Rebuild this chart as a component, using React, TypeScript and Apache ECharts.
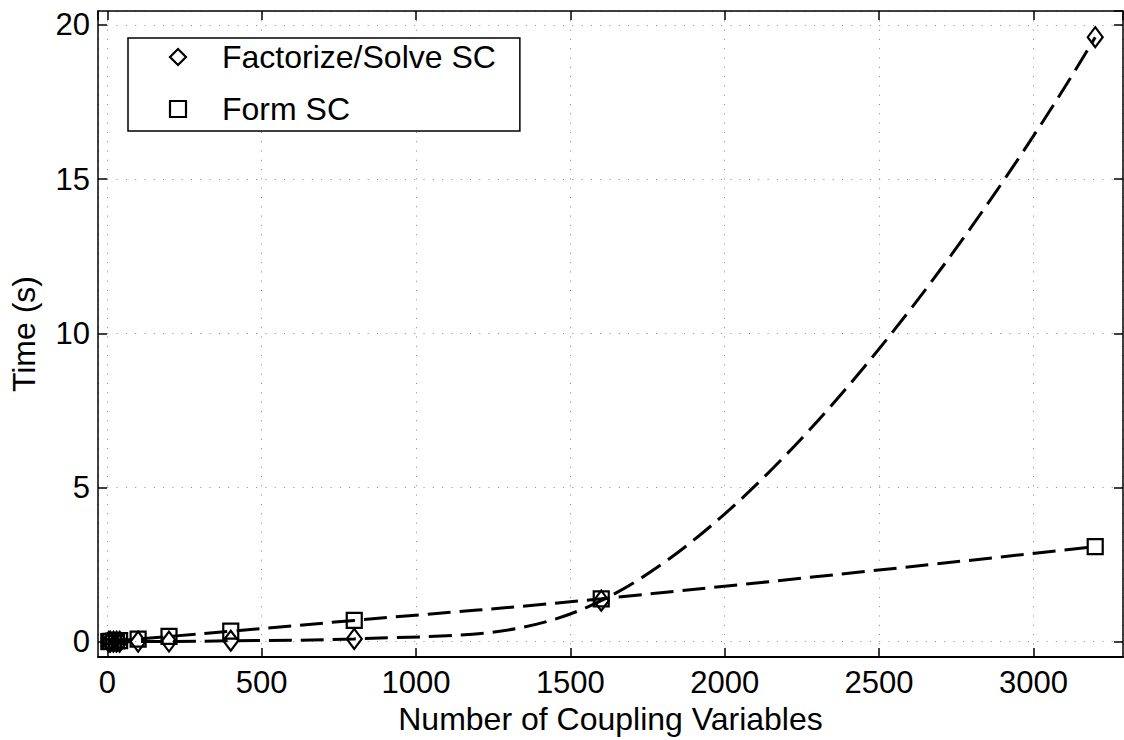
import React, { useEffect, useRef } from "react";
import * as echarts from "echarts";

const couplingVars = [5, 10, 20, 30, 40, 100, 200, 400, 800, 1600, 3200];
const factorizeTimes = [0.0, 0.0, 0.0, 0.0, 0.0, 0.002, 0.005, 0.03, 0.09, 1.33, 19.6];
const formTimes = [0.004, 0.008, 0.016, 0.025, 0.034, 0.085, 0.17, 0.34, 0.69, 1.39, 3.08];

const seriesNames = ["Factorize/Solve SC", "Form SC"];
const xTitle = "Number of Coupling Variables";
const yTitle = "Time (s)";

const FONT = "'Liberation Sans', Arial, Helvetica, sans-serif";

export default function App() {
  const ref = useRef<HTMLDivElement>(null);
  useEffect(() => {
    if (!ref.current) return;
    const chart = echarts.init(ref.current, undefined, { renderer: "svg" });
    const pairs = (ys: number[]) => couplingVars.map((x, i) => [x, ys[i]]);
    const tickStyle = { show: true, inside: true, length: 9, lineStyle: { color: "#000", width: 1.5 } };
    const splitStyle = { show: true, lineStyle: { color: "#888", width: 1, type: [1, 8.3] } };
    const plain = (v: number) => String(v);
    const lineSeries = (name: string, ys: number[], symbol: string, size: any) => ({
      name,
      type: "line",
      data: pairs(ys),
      smooth: 0.42,
      symbol,
      symbolSize: size,
      showAllSymbol: true,
      itemStyle: { color: "rgba(255,255,255,0)", borderColor: "#000", borderWidth: 2.2 },
      lineStyle: { color: "#000", width: 3, type: [23, 9], cap: "butt" },
      emphasis: { disabled: true },
    });
    chart.setOption({
      animation: false,
      backgroundColor: "#fff",
      textStyle: { fontFamily: FONT },
      grid: { left: 98, right: 1, top: 11, bottom: 82, containLabel: false },
      legend: {
        orient: "vertical",
        left: 128,
        top: 38,
        data: seriesNames,
        itemWidth: 78,
        itemHeight: 20,
        itemGap: 20,
        padding: [3, 24, 6, 11],
        borderColor: "#000",
        borderWidth: 1.5,
        backgroundColor: "#fff",
        lineStyle: { width: 0, opacity: 0 },
        itemStyle: { color: "rgba(255,255,255,0)", borderColor: "#000", borderWidth: 2.2 },
        textStyle: { fontFamily: FONT, fontSize: 32, color: "#000" },
        selectedMode: false,
      },
      xAxis: [
        {
          type: "value",
          min: -30,
          max: 3290,
          position: "bottom",
          name: xTitle,
          nameLocation: "middle",
          nameGap: 43,
          nameTextStyle: { fontFamily: FONT, fontSize: 32, color: "#000" },
          axisLine: { show: true, onZero: false, lineStyle: { color: "#000", width: 2 } },
          axisTick: tickStyle,
          axisLabel: { fontFamily: FONT, fontSize: 31, color: "#000", margin: 10, showMinLabel: false, showMaxLabel: false, formatter: plain },
          splitLine: splitStyle,
        },
        {
          type: "value",
          min: -30,
          max: 3290,
          position: "top",
          axisLine: { show: true, onZero: false, lineStyle: { color: "#000", width: 1.5 } },
          axisTick: tickStyle,
          axisLabel: { show: false },
          splitLine: { show: false },
        },
      ],
      yAxis: [
        {
          type: "value",
          min: -0.5,
          max: 20.45,
          position: "left",
          name: yTitle,
          nameLocation: "middle",
          nameGap: 58,
          nameTextStyle: { fontFamily: FONT, fontSize: 32, color: "#000" },
          axisLine: { show: true, onZero: false, lineStyle: { color: "#000", width: 1.5 } },
          axisTick: tickStyle,
          axisLabel: { fontFamily: FONT, fontSize: 31, color: "#000", margin: 8, showMinLabel: false, showMaxLabel: false, formatter: plain },
          splitLine: splitStyle,
        },
        {
          type: "value",
          min: -0.5,
          max: 20.45,
          position: "right",
          axisLine: { show: true, onZero: false, lineStyle: { color: "#000", width: 1.5 } },
          axisTick: tickStyle,
          axisLabel: { show: false },
          splitLine: { show: false },
        },
      ],
      series: [
        lineSeries(seriesNames[0], factorizeTimes, "diamond", [15, 20]),
        lineSeries(seriesNames[1], formTimes, "rect", 15),
      ],
    });
    return () => chart.dispose();
  }, []);
  return (
    <div
      ref={ref}
      style={{ position: "fixed", left: 0, top: 0, width: 1124, height: 740, background: "#fff" }}
    />
  );
}
